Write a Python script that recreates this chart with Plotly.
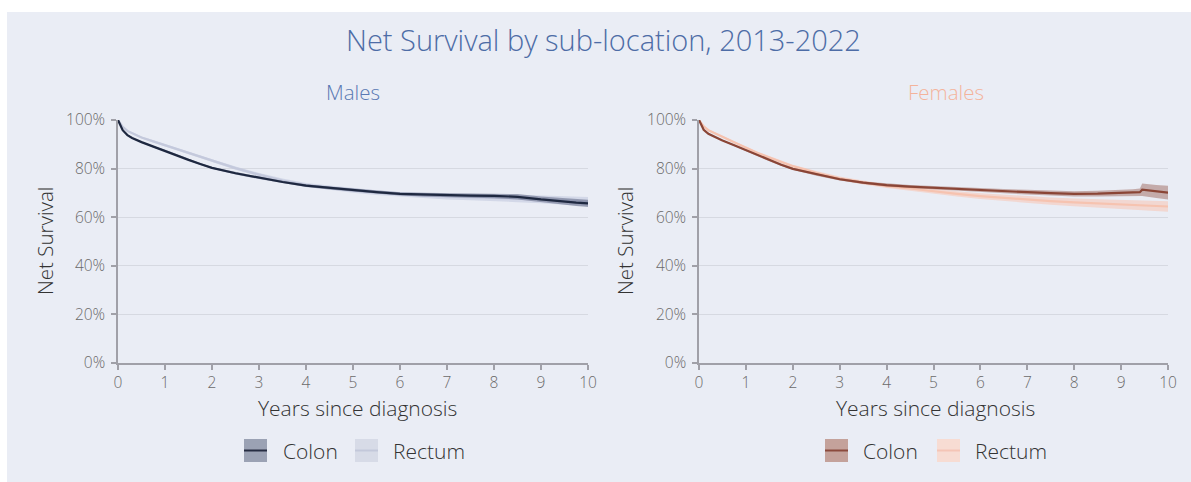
import plotly.graph_objects as go

# ---- data ----
years = [0, 0.05, 0.1, 0.2, 0.3, 0.5, 0.75, 1, 1.25, 1.5, 1.75, 2, 2.5, 3, 3.5, 4, 4.5, 5,
         5.5, 6, 6.5, 7, 7.5, 8, 8.5, 9, 9.25, 9.4, 9.45, 9.75, 10]

males_colon = [100, 97.5, 95.8, 93.8, 92.6, 90.9, 89.0, 87.4, 85.5, 83.6, 81.9, 80.3, 78.1, 76.2, 74.5, 73.0,
               72.0, 71.2, 70.3, 69.6, 69.3, 69.1, 68.9, 68.8, 68.4, 67.3, 66.8, 66.6, 66.5, 66.0, 65.7]
males_colon_lo = [100, 97.3, 95.6, 93.5, 92.3, 90.6, 88.7, 87.0, 85.1, 83.2, 81.5, 79.9, 77.6, 75.7, 74.0, 72.4,
                  71.4, 70.6, 69.6, 68.9, 68.5, 68.3, 68.0, 67.8, 67.3, 66.1, 65.5, 65.3, 65.2, 64.6, 64.2]
males_colon_hi = [100, 97.7, 96.0, 94.1, 92.9, 91.2, 89.3, 87.8, 85.9, 84.0, 82.3, 80.7, 78.6, 76.7, 75.0, 73.6,
                  72.6, 71.8, 71.0, 70.3, 70.1, 69.9, 69.8, 69.8, 69.5, 68.5, 68.1, 67.9, 67.8, 67.4, 67.2]

males_rectum = [100, 98.5, 97.2, 95.5, 94.5, 92.8, 91.2, 89.6, 88.0, 86.4, 84.8, 83.2, 80.2, 77.5, 75.1, 73.3,
                72.1, 71.0, 70.1, 69.4, 68.9, 68.5, 68.3, 68.1, 67.7, 67.3, 67.0, 66.9, 66.8, 66.6, 66.4]
males_rectum_lo = [100, 98.2, 96.9, 95.1, 94.1, 92.4, 90.7, 89.1, 87.5, 85.8, 84.2, 82.6, 79.5, 76.8, 74.3, 72.5,
                   71.2, 70.1, 69.1, 68.4, 67.8, 67.3, 67.0, 66.7, 66.2, 65.7, 65.3, 65.2, 65.1, 64.8, 64.5]
males_rectum_hi = [100, 98.8, 97.5, 95.9, 94.9, 93.2, 91.7, 90.1, 88.5, 87.0, 85.4, 83.8, 80.9, 78.2, 75.9, 74.1,
                   73.0, 71.9, 71.1, 70.4, 70.0, 69.7, 69.6, 69.5, 69.2, 68.9, 68.7, 68.6, 68.5, 68.4, 68.3]

females_colon = [100, 97.6, 96.0, 94.3, 93.3, 91.6, 89.6, 87.6, 85.5, 83.4, 81.6, 79.9, 77.6, 75.6, 74.2, 73.2,
                 72.6, 72.1, 71.6, 71.1, 70.7, 70.3, 69.9, 69.6, 69.7, 69.9, 70.1, 70.3, 71.3, 70.6, 70.1]
females_colon_lo = [100, 97.4, 95.8, 94.0, 93.0, 91.3, 89.3, 87.2, 85.1, 83.0, 81.2, 79.5, 77.1, 75.1, 73.7, 72.6,
                    72.0, 71.4, 70.9, 70.3, 69.8, 69.3, 68.9, 68.5, 68.5, 68.6, 68.7, 68.8, 68.7, 67.9, 67.3]
females_colon_hi = [100, 97.8, 96.2, 94.6, 93.6, 91.9, 89.9, 88.0, 85.9, 83.8, 82.0, 80.3, 78.1, 76.1, 74.7, 73.8,
                    73.2, 72.8, 72.3, 71.9, 71.6, 71.3, 70.9, 70.7, 70.9, 71.2, 71.5, 71.8, 73.9, 73.3, 72.9]

females_rectum = [100, 98.6, 97.4, 95.8, 94.8, 93.1, 90.8, 88.5, 86.4, 84.6, 82.8, 81.0, 78.3, 76.0, 74.3, 72.8,
                  71.8, 70.6, 69.6, 68.7, 67.9, 67.2, 66.6, 66.1, 65.7, 65.3, 65.0, 64.9, 64.8, 64.6, 64.4]
females_rectum_lo = [100, 98.3, 97.1, 95.4, 94.4, 92.7, 90.3, 88.0, 85.9, 84.0, 82.2, 80.4, 77.6, 75.3, 73.5, 72.0,
                     70.9, 69.6, 68.5, 67.5, 66.6, 65.8, 65.1, 64.5, 64.0, 63.5, 63.1, 62.9, 62.8, 62.5, 62.2]
females_rectum_hi = [100, 98.9, 97.7, 96.2, 95.2, 93.5, 91.3, 89.0, 86.9, 85.2, 83.4, 81.6, 79.0, 76.7, 75.1, 73.6,
                     72.7, 71.6, 70.7, 69.9, 69.2, 68.6, 68.1, 67.7, 67.4, 67.1, 66.9, 66.9, 66.8, 66.7, 66.6]

x_ticks = [0, 1, 2, 3, 4, 5, 6, 7, 8, 9, 10]
y_ticks = [0, 20, 40, 60, 80, 100]
y_tick_labels = ["0%", "20%", "40%", "60%", "80%", "100%"]

title_text = "Net Survival by sub-location, 2013-2022"
panel_titles = ["Males", "Females"]
series_names = ["Colon", "Rectum"]

# ---- layout geometry (pixels) ----
W, H = 1191, 482
ML, MR, MT, MB = 118, 23, 120, 119
PW = W - ML - MR
PH = H - MT - MB


def px(x):
    return (x - ML) / PW


def py(y):
    return (H - MB - y) / PH


FONT = "Open Sans"
WT = 300
PANEL = "#eaedf5"

fig = go.Figure()


def band(xaxis, yaxis, lo, hi, fill):
    fig.add_trace(go.Scatter(x=years, y=lo, mode="lines", line=dict(width=0, color=fill),
                             xaxis=xaxis, yaxis=yaxis, showlegend=False, hoverinfo="skip"))
    fig.add_trace(go.Scatter(x=years, y=hi, mode="lines", line=dict(width=0, color=fill),
                             fill="tonexty", fillcolor=fill,
                             xaxis=xaxis, yaxis=yaxis, showlegend=False, hoverinfo="skip"))


def line(xaxis, yaxis, vals, color, name):
    fig.add_trace(go.Scatter(x=years, y=vals, mode="lines", name=name,
                             line=dict(width=2.2, color=color),
                             xaxis=xaxis, yaxis=yaxis, showlegend=False))


# Males
band("x", "y", males_rectum_lo, males_rectum_hi, "rgba(192,198,220,0.55)")
line("x", "y", males_rectum, "#c4c9dc", "Rectum")
band("x", "y", males_colon_lo, males_colon_hi, "rgba(70,80,110,0.45)")
line("x", "y", males_colon, "#1e2840", "Colon")

# Females
band("x2", "y2", females_rectum_lo, females_rectum_hi, "rgba(247,196,178,0.55)")
line("x2", "y2", females_rectum, "#f6c3b0", "Rectum")
band("x2", "y2", females_colon_lo, females_colon_hi, "rgba(140,72,58,0.40)")
line("x2", "y2", females_colon, "#8a4536", "Colon")

axis_common = dict(showline=True, linecolor="#a0a0a8", linewidth=1.5,
                   ticks="outside", ticklen=5, tickcolor="#a0a0a8", tickwidth=1.5,
                   tickfont=dict(family=FONT, size=15.5, color="#6a6a6a", weight=WT),
                   zeroline=False)

xd1 = [0, px(588)]
xd2 = [px(699), 1]

fig.update_layout(
    width=W, height=H,
    margin=dict(l=ML, r=MR, t=MT, b=MB),
    paper_bgcolor="white",
    plot_bgcolor=PANEL,
    showlegend=False,
    xaxis=dict(domain=xd1, range=[0, 10], tickvals=x_ticks, showgrid=False, anchor="y", **axis_common),
    yaxis=dict(domain=[0, 1], range=[0, 100], tickvals=y_ticks, ticktext=y_tick_labels, ticklabelstandoff=3,
               showgrid=True, gridcolor="#d6d9e1", gridwidth=1, anchor="x", **axis_common),
    xaxis2=dict(domain=xd2, range=[0, 10], tickvals=x_ticks, showgrid=False, anchor="y2", **axis_common),
    yaxis2=dict(domain=[0, 1], range=[0, 100], tickvals=y_ticks, ticktext=y_tick_labels, ticklabelstandoff=3,
                showgrid=True, gridcolor="#d6d9e1", gridwidth=1, anchor="x2", **axis_common),
)

shapes = [dict(type="rect", xref="paper", yref="paper", x0=px(7), x1=px(W + 5), y0=py(H + 5), y1=py(12),
               fillcolor=PANEL, line=dict(width=0), layer="below")]

# legend swatches (manual)
legend_items = [
    (244, "#9ba2b4", "#262d42", series_names[0], 283),
    (355, "#d7dbe7", "#c3c8da", series_names[1], 393),
    (825, "#c4a29b", "#8b4a3d", series_names[0], 863),
    (937, "#f7dcd3", "#f4c5b6", series_names[1], 975),
]
annotations = []
for x0, fillc, linec, txt, tx in legend_items:
    shapes.append(dict(type="rect", xref="paper", yref="paper", x0=px(x0), x1=px(x0 + 23),
                       y0=py(462), y1=py(439), fillcolor=fillc, line=dict(width=0)))
    shapes.append(dict(type="line", xref="paper", yref="paper", x0=px(x0), x1=px(x0 + 23),
                       y0=py(450.5), y1=py(450.5), line=dict(color=linec, width=2)))
    annotations.append(dict(text=txt, xref="paper", yref="paper", x=px(tx - 2), y=py(451),
                            xanchor="left", yanchor="middle", showarrow=False,
                            font=dict(family=FONT, size=21, color="#333333", weight=WT)))

annotations += [
    dict(text=title_text, xref="paper", yref="paper", x=px(603), y=py(40), xanchor="center", yanchor="middle",
         showarrow=False, font=dict(family=FONT, size=29, color="#4d6ca6", weight=WT)),
    dict(text=panel_titles[0], xref="paper", yref="paper", x=px(353), y=py(92), xanchor="center",
         yanchor="middle", showarrow=False, font=dict(family=FONT, size=20.5, color="#5a79b3", weight=WT)),
    dict(text=panel_titles[1], xref="paper", yref="paper", x=px(946), y=py(92), xanchor="center",
         yanchor="middle", showarrow=False, font=dict(family=FONT, size=20.5, color="#f4b39b", weight=WT)),
]
for cx, cy in [(45, 241), (625, 241)]:
    annotations.append(dict(text="Net Survival", xref="paper", yref="paper", x=px(cx), y=py(cy),
                            xanchor="center", yanchor="middle", textangle=-90, showarrow=False,
                            font=dict(family=FONT, size=20.5, color="#333333", weight=WT)))
for cx in [357, 935]:
    annotations.append(dict(text="Years since diagnosis", xref="paper", yref="paper", x=px(cx), y=py(408),
                            xanchor="center", yanchor="middle", showarrow=False,
                            font=dict(family=FONT, size=21, color="#333333", weight=WT)))

fig.update_layout(shapes=shapes, annotations=annotations)

fig.write_html("out.html")
